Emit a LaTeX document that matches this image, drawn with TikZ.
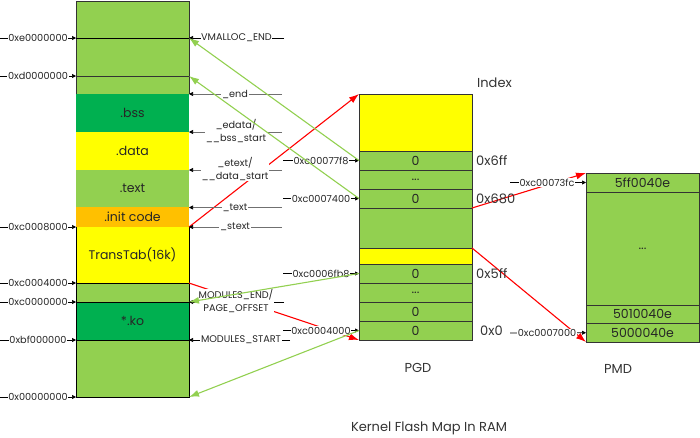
\documentclass[tikz,border=0pt]{standalone}
\usepackage{fontspec}
\setmainfont{Poppins}
\usetikzlibrary{arrows.meta}
\definecolor{lg}{HTML}{92D050}
\definecolor{dg}{HTML}{00B050}
\definecolor{yl}{HTML}{FFFF00}
\definecolor{og}{HTML}{FFC000}
\definecolor{bd}{HTML}{333333}
\definecolor{gl}{HTML}{707070}
\definecolor{rd}{HTML}{FF0000}
\begin{document}
\begin{tikzpicture}[x=1pt,y=-1pt,
  reg/.style={anchor=north west, inner sep=0pt, outer sep=0pt, minimum width=113pt, font=\fontsize{12.5}{14}\selectfont, text=black!85},
  cell/.style={reg, draw=bd, line width=0.8pt},
  lab/.style={fill=white, inner sep=0.6pt, font=\fontsize{9.7}{12.5}\selectfont, align=center, text=black!85},
  txt/.style={inner sep=0pt, font=\fontsize{13}{15}\selectfont, text=black!80},
  tick/.style={line width=0.7pt, -{Triangle[length=4pt,width=4pt]}},
  gtick/.style={tick, gl, arrows={-{Triangle[length=4pt,width=4pt,black]}}},
  garrow/.style={lg, line width=1.1pt, -{Latex[length=10pt,width=7pt]}},
  rarrow/.style={rd, line width=1.1pt, -{Latex[length=10pt,width=7pt]}}
]
\useasboundingbox (0,0) rectangle (700,437);

% ---- left column (memory map)
\node[reg, fill=lg, minimum height=93pt] (top) at (76,1) {};
\node[reg, fill=dg, minimum height=38pt] (bss) at (76,94) {.bss};
\node[reg, fill=yl, minimum height=38pt] (data) at (76,132) {.data};
\node[reg, fill=lg, minimum height=37pt] (text) at (76,170) {.text};
\node[reg, fill=og, minimum height=20pt] (init) at (76,207) {.init code};
\node[reg, fill=yl, minimum height=56pt] (trans) at (76,227) {TransTab(16k)};
\node[reg, fill=lg, minimum height=19pt] (gap) at (76,283) {};
\node[reg, fill=dg, minimum height=38pt] (ko) at (76,302) {*.ko};
\node[reg, fill=lg, minimum height=57pt] (low) at (76,340) {};
\draw[bd, line width=0.8pt] (top.south west) -- (top.north west) -- (top.north east) -- (top.south east);
\draw[black, line width=0.8pt] (trans.north west) -- (low.south west) -- (low.south east) -- (trans.north east);
\draw[black, line width=0.8pt] (gap.north west) -- (gap.north east)
  (ko.north west) -- (ko.north east) (low.north west) -- (low.north east);

% ---- PGD column
\node[cell, fill=yl, minimum height=57pt] (ptop) at (359,94) {};
\node[cell, fill=lg, minimum height=19pt] (p6ff) at (359,151) {0};
\node[cell, fill=lg, minimum height=19pt] (pd1) at (359,170) {...};
\node[cell, fill=lg, minimum height=19pt] (p680) at (359,189) {0};
\node[cell, fill=lg, minimum height=40pt] (pmid) at (359,208) {};
\node[cell, fill=yl, minimum height=16pt] (pyl) at (359,248) {};
\node[cell, fill=lg, minimum height=19pt] (p5ff) at (359,264) {0};
\node[cell, fill=lg, minimum height=19pt] (pd2) at (359,283) {...};
\node[cell, fill=lg, minimum height=19pt] (p1) at (359,302) {0};
\node[cell, fill=lg, minimum height=19pt] (p0) at (359,321) {0};

% ---- PMD column
\node[cell, fill=lg, minimum height=19pt] (m1) at (586,173) {5ff0040e};
\node[cell, fill=lg, minimum height=113pt] (md) at (586,192) {...};
\node[cell, fill=lg, minimum height=18.5pt] (m2) at (586,305) {5010040e};
\node[cell, fill=lg, minimum height=18.5pt] (m3) at (586,323.5) {5000040e};

% ---- red connectors (under labels)
\draw[rarrow] (trans.north east) -- (ptop.north west);
\draw[rarrow] (gap.north east) -- (p0.south west);
\draw[rarrow] (p680.south east) -- (m1.north west);
\draw[rarrow] (pmid.south east) -- (m3.south west);

% ---- coordinates for label lines
\coordinate (bE) at (189,38);  \coordinate (bD) at (189,76);
\foreach \n/\y in {e/38,d/76,c8/227,c4/283,c0/302,bf/340,z/397}{
  \coordinate (L\n) at (0,\y);
  \coordinate (T\n) at (76,\y);
  \coordinate (M\n) at (38,\y);
}
\foreach \n/\y in {v/38,en/94,ed/132,et/170,tx/207.5,st/227,me/302,ms/340}{
  \coordinate (R\n) at (189,\y);
}

% left labels
\draw[tick] (Le) -- (Te);   \node[lab] (le) at (Me) {0xe0000000};
\draw[tick] (Ld) -- (Td);   \node[lab] (ld) at (Md) {0xd0000000};
\draw[tick] (Lc8) -- (Tc8); \node[lab] (lc8) at (Mc8) {0xc0008000};
\draw[tick] (Lc4) -- (Tc4); \node[lab] (lc4) at (Mc4) {0xc0004000};
\draw[tick] (Lc0) -- (Tc0); \node[lab] (lc0) at (Mc0) {0xc0000000};
\draw[tick] (Lbf) -- (Tbf); \node[lab] (lbf) at (Mbf) {0xbf000000};
\draw[tick] (Lz) -- (Tz);   \node[lab] (lz) at (Mz) {0x00000000};

% lines across the top region
\draw[black, line width=0.8pt] (Te) -- (Rv);
\draw[bd, line width=0.8pt] (Td) -- (bD);

% right labels of the memory map
\coordinate (Sv) at (284,38);   \draw[tick] (Sv) -- (Rv);
\node[lab] (rv) at (236.5,38) {VMALLOC\_END};
\coordinate (Sen) at (282,94);  \draw[gtick] (Sen) -- (Ren);
\node[lab] (ren) at (235,94) {\_end};
\coordinate (Sed) at (282,132); \draw[gtick] (Sed) -- (Red);
\node[lab] (red) at (236,131) {\_edata/\\\_\_bss\_start};
\coordinate (Set) at (282,170); \draw[gtick] (Set) -- (Ret);
\node[lab] (ret) at (235,169) {\_etext/\\\_\_data\_start};
\coordinate (Stx) at (282,207.5); \draw[gtick] (Stx) -- (Rtx);
\node[lab] (rtx) at (235,207.5) {\_text};
\coordinate (Sst) at (282,227); \draw[gtick] (Sst) -- (Rst);
\node[lab] (rst) at (235,227) {\_stext};
\coordinate (Sme) at (284,302); \draw[tick] (Sme) -- (Rme);
\node[lab] (rme) at (236,301) {MODULES\_END/\\PAGE\_OFFSET};
\coordinate (Sms) at (290,340); \draw[tick] (Sms) -- (Rms);
\node[lab] (rms) at (241,340) {MODULES\_START};

% PGD left labels
\coordinate (Q1) at (283,160.5); \draw[tick] (Q1) -- (p6ff.west);
\node[lab] (q1) at (321,160.5) {0xc00077f8};
\coordinate (Q2) at (283,198.5); \draw[tick] (Q2) -- (p680.west);
\node[lab] (q2) at (321,198.5) {0xc0007400};
\coordinate (Q3) at (283,273.5); \draw[tick] (Q3) -- (p5ff.west);
\node[lab] (q3) at (321,273.5) {0xc0006fb8};
\coordinate (Q4) at (283,330.5); \draw[tick] (Q4) -- (p0.west);
\node[lab] (q4) at (321,330.5) {0xc0004000};

% PMD left labels
\coordinate (N1) at (510,182.5); \draw[tick] (N1) -- (m1.west);
\node[lab] (n1) at (547,182.5) {0xc00073fc};
\coordinate (N2) at (510,333); \draw[tick] (N2) -- (m3.west);
\node[lab] (n2) at (547,333) {0xc0007000};

% PGD index labels
\node[txt, anchor=west] (i6ff) at (476,160.5) {0x6ff};
\node[txt, anchor=west] (i680) at (476,198.5) {0x680};
\node[txt, anchor=west] (i5ff) at (476,273.5) {0x5ff};
\node[txt, anchor=west] (i0) at (480,330.5) {0x0};
\node[txt, anchor=west] (idx) at (477,83) {Index};
\node[txt] (pgd) at (418,368) {PGD};
\node[txt] (pmd) at (618,369) {PMD};
\node[txt] (title) at (429,428) {Kernel Flash Map In RAM};

% ---- green connectors (over labels)
\draw[garrow] (p6ff.west) -- (bE);
\draw[garrow] (p680.west) -- (bD);
\draw[garrow] (p5ff.west) -- (ko.north east);
\draw[garrow] (p0.west) -- (low.south east);
\end{tikzpicture}
\end{document}
